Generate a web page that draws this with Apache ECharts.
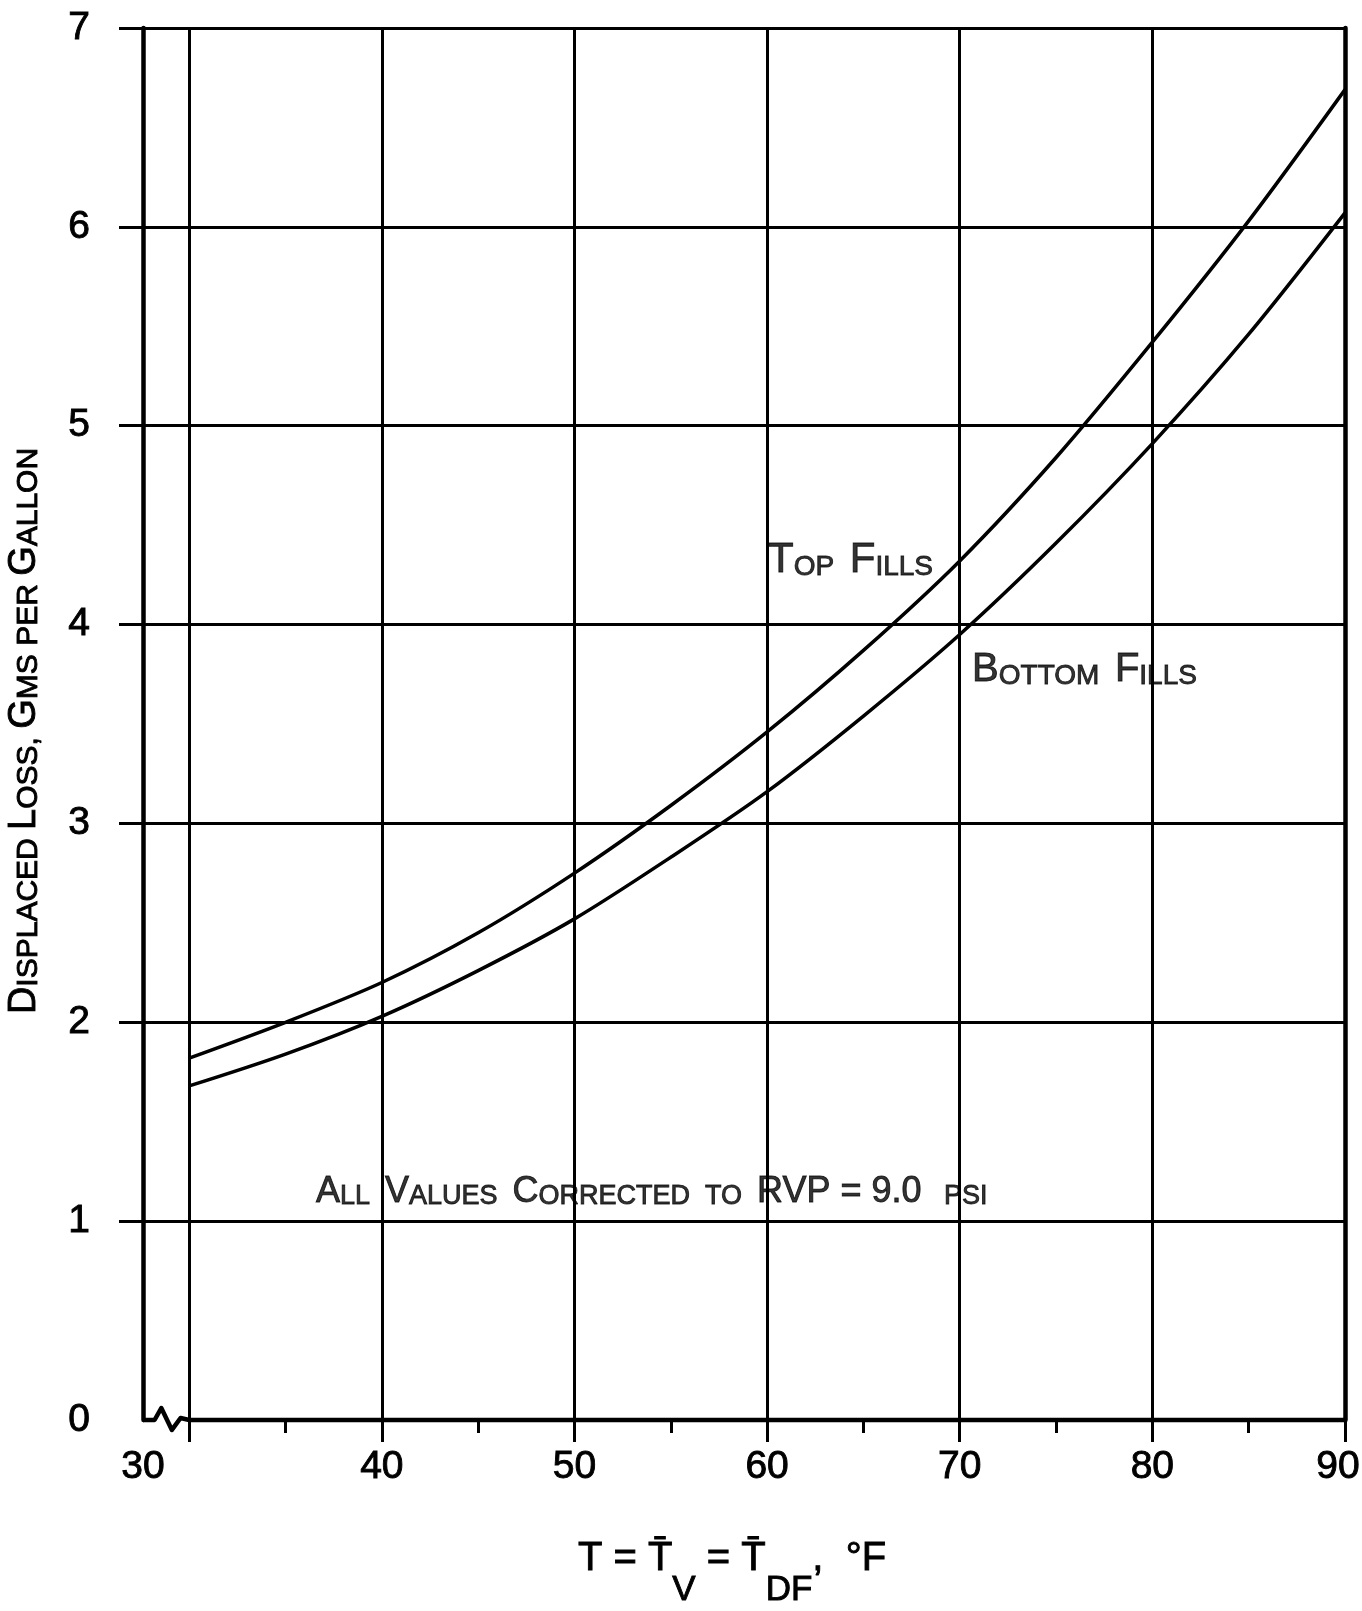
<!DOCTYPE html>
<html>
<head>
<meta charset="utf-8">
<script src="https://cdn.jsdelivr.net/npm/echarts@6.0.0/dist/echarts.min.js"></script>
<style>
html,body{margin:0;padding:0;background:#fff;}
#chart{width:1362px;height:1611px;}
</style>
</head>
<body>
<div id="chart"></div>
<script>
// ---- data ----
const temps       = [30, 35, 40, 45, 50, 55, 60, 65, 70, 75, 80, 85, 90];
const topFills    = [1.82, 2.00, 2.20, 2.45, 2.75, 3.09, 3.46, 3.87, 4.32, 4.84, 5.42, 6.03, 6.69];
const bottomFills = [1.68, 1.84, 2.03, 2.26, 2.52, 2.83, 3.16, 3.54, 3.95, 4.41, 4.91, 5.46, 6.07];
const xMajorTicks = [30, 40, 50, 60, 70, 80, 90];
const xMinorTicks = [35, 45, 55, 65, 75, 85];
const yTicks      = [1, 2, 3, 4, 5, 6, 7];
const yLabels     = [0, 1, 2, 3, 4, 5, 6, 7];
const xStart = 27.6;   // left end of the broken x axis
const breakPath = [[27.6, 0], [28.2, 0], [28.55, 0.06], [29.1, -0.05], [29.55, 0.01], [30, 0], [90, 0]];
const notes = [
  { x: 60.05, y: 4.28, text: '{b1|T}{s1|OP  }{b1|F}{s1|ILLS}' },
  { x: 70.64, y: 3.73, text: '{b2|B}{s2|OTTOM  }{b2|F}{s2|ILLS}' },
  { x: 36.58, y: 1.11, text: '{b3|A}{s3|LL  }{b3|V}{s3|ALUES  }{b3|C}{s3|ORRECTED  TO  }{b3|RVP = 9.0}{s3|   PSI}' }
];
const yName = '{b|D}{s|ISPLACED }{b|L}{s|OSS, }{b|G}{s|MS PER }{b|G}{s|ALLON}';
const xName = '{m|T = T\u0304}{sub|V}{m| = T\u0304}{sub|DF}{m|,  °F}';

const SANS = 'Liberation Sans, Arial, sans-serif';
const INK = '#000';
const BOLDEN = { textBorderColor: INK, textBorderWidth: 0.9 };

function tok(size) {
  return Object.assign({ fontSize: size, fontFamily: SANS, color: INK, lineHeight: Math.round(size * 0.6), verticalAlign: 'bottom' }, BOLDEN);
}

const chart = echarts.init(document.getElementById('chart'), null, { renderer: 'canvas' });
chart.setOption({
  animation: false,
  backgroundColor: '#fff',
  grid: { left: 143, right: 17, top: 28, bottom: 191, containLabel: false, outerBoundsMode: 'none' },
  xAxis: [{
    type: 'value', min: xStart, max: 90,
    axisLine: { show: false },
    axisTick: { show: true, customValues: xMajorTicks, length: 22, lineStyle: { color: INK, width: 3 } },
    splitLine: { show: true, lineStyle: { color: INK, width: 3 } },
    axisLabel: Object.assign({
      customValues: [xStart].concat(xMajorTicks.slice(1)),
      formatter: v => (v === xStart ? String(xMajorTicks[0]) : (v === 90 ? '{r|' + v + '}' : String(v))),
      fontFamily: SANS, fontSize: 39, color: INK, margin: 28,
      rich: { r: Object.assign({ fontFamily: SANS, fontSize: 39, color: INK, padding: [0, 14, 0, 0] }, BOLDEN) }
    }, BOLDEN),
    name: xName, nameLocation: 'middle', nameGap: 119,
    nameTextStyle: {
      padding: [0, 24, 0, 0],
      rich: {
        m: Object.assign({ fontSize: 40, fontFamily: SANS, color: INK, lineHeight: 40, verticalAlign: 'top' }, BOLDEN),
        sub: Object.assign({ fontSize: 35, fontFamily: SANS, color: INK, lineHeight: 35, verticalAlign: 'top', padding: [34, 0, 0, 0] }, BOLDEN)
      }
    }
  }, {
    type: 'value', min: xStart, max: 90, position: 'bottom',
    axisLine: { show: false },
    axisTick: { show: true, customValues: xMinorTicks, length: 13, lineStyle: { color: INK, width: 3 } },
    axisLabel: { show: false },
    splitLine: { show: false }
  }],
  yAxis: [{
    type: 'value', min: 0, max: 7, interval: 1,
    axisLine: { show: true, lineStyle: { color: INK, width: 4.5 } },
    axisTick: { show: true, customValues: yTicks, length: 24, lineStyle: { color: INK, width: 3 } },
    splitLine: { show: true, lineStyle: { color: INK, width: 3 } },
    axisLabel: Object.assign({ customValues: yLabels, fontFamily: SANS, fontSize: 39, color: INK, margin: 53 }, BOLDEN),
    name: yName, nameLocation: 'middle', nameRotate: 90, nameGap: 99,
    nameTextStyle: {
      padding: [0, 14, 0, 0],
      rich: { b: tok(38), s: tok(30) }
    }
  }, {
    type: 'value', min: 0, max: 7, interval: 1, position: 'right',
    axisLine: { show: true, lineStyle: { color: INK, width: 4.5 } },
    axisTick: { show: false }, axisLabel: { show: false }, splitLine: { show: false }
  }],
  series: [{
    name: 'Top Fills', type: 'line', xAxisIndex: 0, yAxisIndex: 0,
    data: temps.map((t, i) => [t, topFills[i]]),
    smooth: 0.3, showSymbol: false, symbol: 'none',
    lineStyle: { color: INK, width: 3.5 }, z: 5
  }, {
    name: 'Bottom Fills', type: 'line', xAxisIndex: 0, yAxisIndex: 0,
    data: temps.map((t, i) => [t, bottomFills[i]]),
    smooth: 0.3, showSymbol: false, symbol: 'none',
    lineStyle: { color: INK, width: 3.5 }, z: 5
  }, {
    name: 'axis', type: 'line', xAxisIndex: 0, yAxisIndex: 0,
    data: breakPath, smooth: false, showSymbol: false, symbol: 'none', clip: false,
    lineStyle: { color: INK, width: 4.5, join: 'round' }, z: 6
  }, {
    name: 'notes', type: 'scatter', xAxisIndex: 0, yAxisIndex: 0,
    data: notes.map(n => [n.x, n.y]),
    symbolSize: 0, silent: true, z: 7,
    label: {
      show: true, position: 'right', distance: 0, color: INK,
      formatter: p => notes[p.dataIndex].text,
      rich: {
        b1: tok(42), s1: tok(28),
        b2: tok(40), s2: tok(28),
        b3: tok(36), s3: tok(27)
      }
    }
  }]
});
</script>
</body>
</html>
